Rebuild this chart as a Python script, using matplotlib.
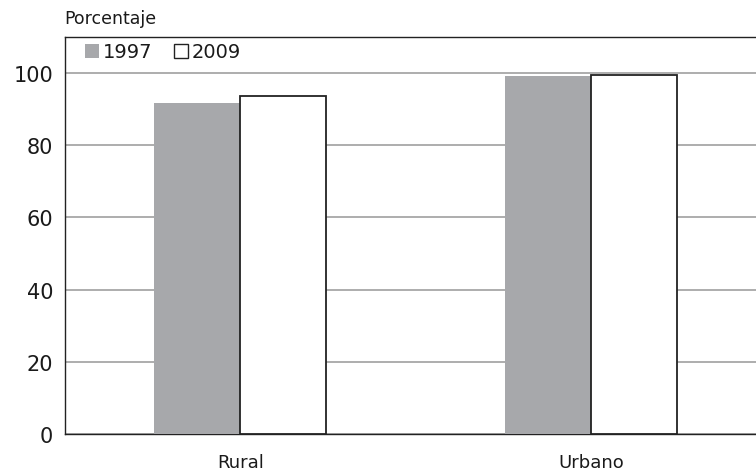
import matplotlib
matplotlib.use("Agg")
import matplotlib.pyplot as plt
from matplotlib.patches import Patch
import numpy as np

categories = ["Rural", "Urbano"]
years = ["1997", "2009"]
values_1997 = [91.7, 99.2]
values_2009 = [93.6, 99.4]
yticks = [0, 20, 40, 60, 80, 100]

plt.rcParams['font.family'] = ['DejaVu Sans']

fig = plt.figure(figsize=(7.56, 4.77), dpi=100)
ax = fig.add_axes([65/756, 42/477, 701/756, 397/477])

x = np.arange(len(categories))
w = 0.245
ax.bar(x - w/2, values_1997, w, color="#a7a8ab", edgecolor="none", zorder=3)
ax.bar(x + w/2, values_2009, w, color="white", edgecolor="#222222", linewidth=1.3, zorder=3)

ax.set_xlim(-0.5, 1.5)
ax.set_ylim(0, 110)
ax.set_yticks(yticks)
ax.set_yticklabels([str(v) for v in yticks], fontsize=15, color="#1a1a1a")
ax.set_xticks(x)
ax.set_xticklabels(categories, fontsize=13, color="#1a1a1a")
ax.tick_params(axis='both', length=0)
ax.tick_params(axis='y', pad=8.6)
ax.tick_params(axis='x', pad=13.5)
ax.yaxis.grid(True, color="#a0a0a0", linewidth=1.2, zorder=0)
ax.set_axisbelow(True)
for s in ["left", "bottom", "top"]:
    ax.spines[s].set_color("#222222")
    ax.spines[s].set_linewidth(1.0)
ax.spines["right"].set_visible(False)

fig.text(64/756, 1 - 19/477, "Porcentaje", fontsize=12.5, va="center", ha="left",
         color="#1a1a1a")

handles = [Patch(facecolor="#a7a8ab", edgecolor="none"),
           Patch(facecolor="white", edgecolor="#222222", linewidth=1.0)]
leg = ax.legend(handles, years, loc="center left",
                bbox_to_anchor=(20/701, (435-53)/397),
                ncol=2, frameon=False, fontsize=14, handlelength=0.72, handleheight=0.72,
                handletextpad=0.2, columnspacing=1.1, borderaxespad=0, borderpad=0)
for t in leg.get_texts():
    t.set_color("#1a1a1a")

fig.savefig("out.png", dpi=100)
